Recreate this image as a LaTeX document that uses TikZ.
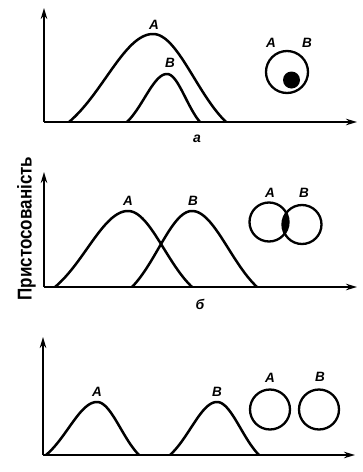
\documentclass[tikz,border=0pt]{standalone}
\usepackage{fontspec}
\setmainfont{Liberation Sans}
\usetikzlibrary{arrows.meta}
\newcommand\bellcurve[5]{%
  \draw[curve] plot[domain=-1:1,samples=81,smooth]
    ({#2+ifthenelse(\x<0,#2-#1,#3-#2)*\x},{#4-(#4-#5)*(exp(-1.6*\x*\x)-0.2019)/0.7981});}
\begin{document}
\begin{tikzpicture}[x=1pt,y=-1pt,
  axis/.style={line width=2.4pt,-{Stealth[length=11pt,width=6.5pt]}},
  curve/.style={line width=2.5pt,line join=round},
  ring/.style={line width=2.3pt},
  lab/.style={font=\fontsize{13.5}{13.5}\selectfont\bfseries\itshape,inner sep=0pt},
  panel/.style={font=\fontsize{14}{14}\selectfont\bfseries\itshape,inner sep=0pt},
]
\useasboundingbox (0,0) rectangle (363,472);
% ---------- panel a ----------
\coordinate (o1) at (44,122);
\coordinate (y1) at (44,8);
\coordinate (x1) at (357,122);
\draw[axis] (o1) -- (y1);
\draw[axis] (o1) -- (x1);
\bellcurve{69}{153}{226}{122}{34}
\bellcurve{127}{167}{200}{122}{74}
\node[lab] (a1A) at (154,25) {A};
\node[lab] (a1B) at (170,63) {B};
\node[panel] (pa) at (197,139) {а};
\coordinate (c1) at (287,72);
\draw[ring] (c1) circle (21);
\coordinate (d1) at (291.5,80);
\fill (d1) circle (8.5);
\node[lab] (c1A) at (271,43) {A};
\node[lab] (c1B) at (307,43) {B};
% ---------- panel b ----------
\coordinate (o2) at (44,287);
\coordinate (y2) at (44,172);
\coordinate (x2) at (357,287);
\draw[axis] (o2) -- (y2);
\draw[axis] (o2) -- (x2);
\bellcurve{55}{128}{192}{287}{211}
\bellcurve{132}{192}{257}{287}{211}
\node[lab] (b1A) at (128,201) {A};
\node[lab] (b1B) at (193,201) {B};
\node[panel] (pb) at (200,304) {б};
\coordinate (c2) at (269,222);
\coordinate (c3) at (302,224.5);
\begin{scope}
  \clip (c2) circle (20);
  \fill (c3) circle (20);
\end{scope}
\draw[ring] (c2) circle (19.5);
\draw[ring] (c3) circle (19.5);
\node[lab] (c2A) at (270,193) {A};
\node[lab] (c2B) at (304,193) {B};
\node[rotate=90,anchor=base,inner sep=0pt,font=\fontsize{20}{20}\selectfont\bfseries] (ylab) at (31.5,228.5) {\scalebox{0.85}[1]{Пристосованість}};
% ---------- panel c ----------
\coordinate (o3) at (43,455);
\coordinate (y3) at (43,337);
\coordinate (x3) at (355,455);
\draw[axis] (o3) -- (y3);
\draw[axis] (o3) -- (x3);
\bellcurve{46}{97}{139}{455}{402}
\bellcurve{170}{217}{259}{455}{402}
\node[lab] (e1A) at (97,392) {A};
\node[lab] (e1B) at (217,392) {B};
\coordinate (c4) at (270,409.5);
\coordinate (c5) at (319,409.5);
\draw[ring] (c4) circle (20);
\draw[ring] (c5) circle (20);
\node[lab] (c4A) at (270,378) {A};
\node[lab] (c4B) at (320,377) {B};
\end{tikzpicture}
\end{document}
